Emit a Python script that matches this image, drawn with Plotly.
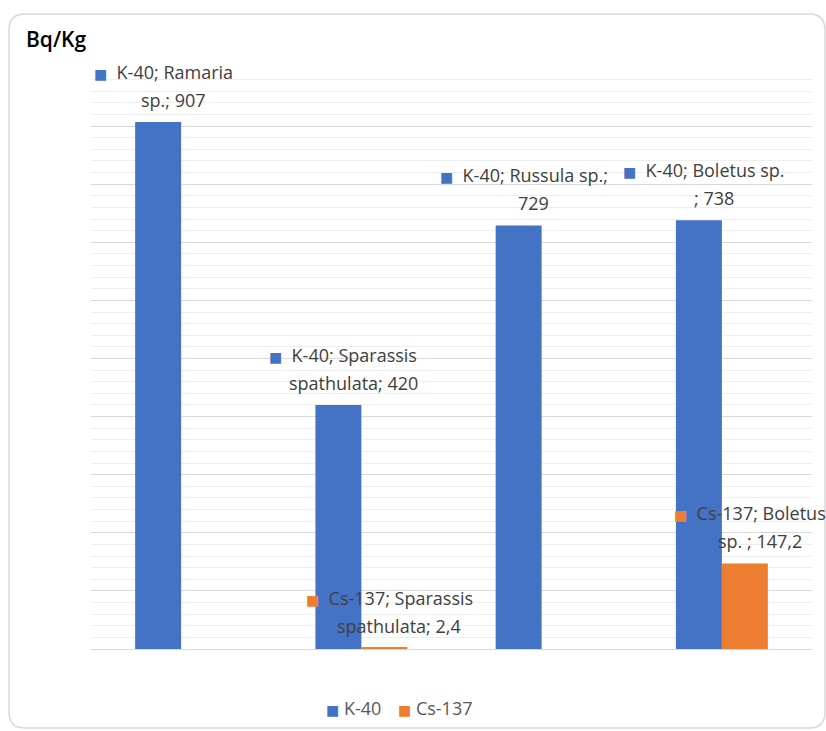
import plotly.graph_objects as go

# Activity concentrations by mushroom species
species = ["Ramaria sp.", "Sparassis spathulata", "Russula sp.", "Boletus sp. "]
series_names = ["K-40", "Cs-137"]
k40 = [907, 420, 729, 738]
cs137 = [None, 2.4, None, 147.2]
series_values = [k40, cs137]
series_colors = ["#4472C4", "#ED7D31"]

# words kept on the first line of each wrapped data label
label_first_line_words = {
    ("K-40", 0): 2, ("K-40", 1): 2, ("K-40", 2): 3, ("K-40", 3): 3,
    ("Cs-137", 1): 2, ("Cs-137", 3): 2,
}

W, H = 826, 731
ML, MR, MT, MB = 91, 14, 68, 82
PW, PH = W - ML - MR, H - MT - MB
BARGAP = 0.49
FONT = "'Open Sans', Lato, sans-serif"
LABEL_GRAY = "#404040"
LABEL_SIZE = 18
KEY_SIZE = 14


def px_to_paper(px, py):
    return (px - ML) / PW, (H - MB - py) / PH


def fmt(v):
    s = f"{v:g}"
    return s.replace(".", ",")


def key_glyph(col):
    return (f"<span style='color:{col};font-size:{KEY_SIZE}px;"
            f"font-family:DejaVu Sans'>■</span>")


fig = go.Figure()
for name, vals, col in zip(series_names, series_values, series_colors):
    fig.add_trace(go.Bar(
        name=name, x=species, y=vals, marker_color=col,
        marker_line_width=0, showlegend=False,
    ))

annotations = []
bar_w = (1 - BARGAP) / 2
for si, (name, vals, col) in enumerate(zip(series_names, series_values, series_colors)):
    offset = (si - 0.5) * bar_w
    for ci, (cat, v) in enumerate(zip(species, vals)):
        if v is None:
            continue
        words = f"{name}; {cat.strip()}{' ' if cat.endswith(' ') else ''}; {fmt(v)}".split()
        n1 = label_first_line_words[(name, ci)]
        line1 = " ".join(words[:n1])
        line2 = " ".join(words[n1:])
        annotations.append(dict(
            x=ci + offset, y=v, xref="x", yref="y", text=line2,
            showarrow=False, xshift=15, yshift=22, yanchor="middle",
            font=dict(family=FONT, size=LABEL_SIZE, color=LABEL_GRAY),
        ))
        annotations.append(dict(
            x=ci + offset, y=v, xref="x", yref="y",
            text=key_glyph(col) + "  " + line1,
            showarrow=False, xshift=15 - 10, yshift=50, yanchor="middle",
            font=dict(family=FONT, size=LABEL_SIZE, color=LABEL_GRAY),
        ))

# axis title in the top-left corner
tx, ty = px_to_paper(24, 39)
annotations.append(dict(
    x=tx, y=ty, xref="paper", yref="paper", text="Bq/Kg",
    xanchor="left", yanchor="middle", showarrow=False,
    font=dict(family=FONT, size=21, color="#000000", weight=600),
))

# legend row
legend_x = [324, 396]
for name, col, lx in zip(series_names, series_colors, legend_x):
    px, py = px_to_paper(lx, 708)
    annotations.append(dict(
        x=px, y=py, xref="paper", yref="paper",
        text=key_glyph(col) + " " + name,
        xanchor="left", yanchor="middle", showarrow=False,
        font=dict(family=FONT, size=LABEL_SIZE, color="#595959"),
    ))

# rounded chart frame
l, r, t, b, rad = 9, 825, 14, 728, 16
pts = [
    ("M", l + rad, t), ("L", r - rad, t), ("Q", r, t, r, t + rad),
    ("L", r, b - rad), ("Q", r, b, r - rad, b), ("L", l + rad, b),
    ("Q", l, b, l, b - rad), ("L", l, t + rad), ("Q", l, t, l + rad, t),
]
path = ""
for p in pts:
    cmd, coords = p[0], p[1:]
    conv = []
    for i in range(0, len(coords), 2):
        X, Y = px_to_paper(coords[i], coords[i + 1])
        conv.append(f"{X:.5f},{Y:.5f}")
    path += cmd + " ".join(conv)
path += "Z"

fig.update_layout(
    width=W, height=H,
    margin=dict(l=ML, r=MR, t=MT, b=MB, pad=0),
    paper_bgcolor="white", plot_bgcolor="white",
    barmode="group", bargap=BARGAP, bargroupgap=0,
    annotations=annotations,
    shapes=[dict(type="path", path=path, xref="paper", yref="paper",
                 line=dict(color="#d9d9d9", width=1.5), layer="below")],
    xaxis=dict(type="category", range=[-0.5, 3.5], showticklabels=False,
               showgrid=False, zeroline=False, showline=False, ticks=""),
    yaxis=dict(range=[0, 1000], dtick=100, showticklabels=False, ticks="",
               showgrid=True, gridcolor="#d9d9d9", gridwidth=1,
               zeroline=True, zerolinecolor="#d9d9d9", zerolinewidth=1,
               showline=False,
               minor=dict(dtick=20, showgrid=True, gridcolor="#efefef", gridwidth=1)),
)

fig.write_html("out.html")
